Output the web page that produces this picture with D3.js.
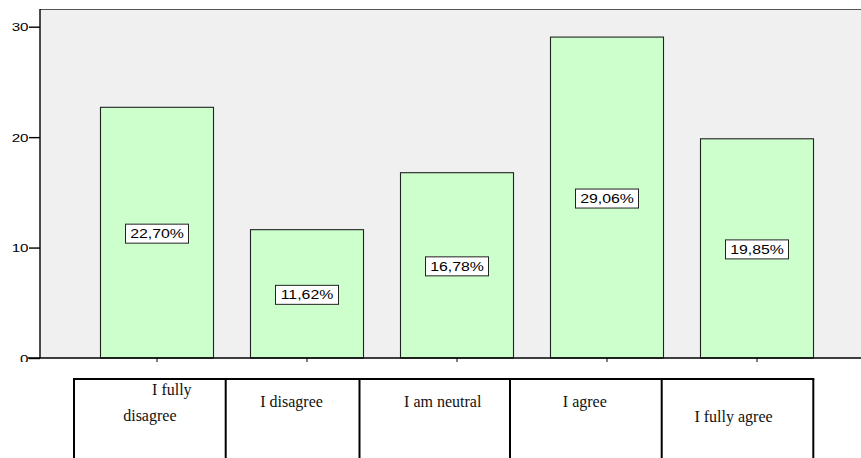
<!DOCTYPE html>
<html>
<head>
<meta charset="utf-8">
<script src="https://cdn.jsdelivr.net/npm/d3@7"></script>
<style>
  html, body { margin: 0; padding: 0; background: #fff; }
  svg { display: block; }
</style>
</head>
<body>
<svg id="chart" width="861" height="458"></svg>
<script>
// Answer categories, shares of respondents (%) and the y axis ticks
const categories = ["I fully disagree", "I disagree", "I am neutral", "I agree", "I fully agree"];
const categoryLines = [["I fully", "disagree"], ["I disagree"], ["I am neutral"], ["I agree"], ["I fully agree"]];
const percents = [22.70, 11.62, 16.78, 29.06, 19.85];
const yTicks = [0, 10, 20, 30];

// Layout
const W = 861, H = 458;
const plot = { left: 40, top: 9, right: 861, bottom: 358 };
const tableEdges = [74, 225.7, 359.5, 510, 661.7, 813.3];
const tableTop = 379;
// per-cell line placement: horizontal nudge from the cell centre and baseline
const cellTextLayout = [
  [{ dx: 22, y: 394.5 }, { dx: 0, y: 421 }],
  [{ dx: -1, y: 407 }],
  [{ dx: 8, y: 407 }],
  [{ dx: -1, y: 407 }],
  [{ dx: -4, y: 422 }]
];
const sansFont = "'Liberation Sans', Arial, sans-serif";
const serifFont = "'Liberation Serif', 'Times New Roman', serif";
const stretch = 1.32; // chart labels are drawn horizontally widened

const svg = d3.select("#chart");

const x = d3.scaleBand()
  .domain(categories)
  .range([82, 832])
  .paddingInner(0.25)
  .paddingOuter(0.125);

const y = d3.scaleLinear()
  .domain([0, 30])
  .range([plot.bottom, 26.7]);

const fmt = v => d3.format(".2f")(v).replace(".", ",") + "%";

// clip so the lowest tick label is cut by the area below the axis
svg.append("defs").append("clipPath").attr("id", "chartClip")
  .append("rect").attr("x", 0).attr("y", 0).attr("width", W).attr("height", 362);

const chart = svg.append("g").attr("clip-path", "url(#chartClip)");

// plot background
chart.append("rect")
  .attr("x", plot.left).attr("y", plot.top)
  .attr("width", plot.right - plot.left).attr("height", plot.bottom - plot.top)
  .attr("fill", "#f0f0f0");

// top frame line
chart.append("line")
  .attr("x1", plot.left).attr("x2", plot.right)
  .attr("y1", plot.top + 0.5).attr("y2", plot.top + 0.5)
  .attr("stroke", "#555").attr("stroke-width", 1);

// bars
chart.selectAll("rect.bar")
  .data(percents)
  .join("rect")
  .attr("class", "bar")
  .attr("x", (d, i) => Math.round(x(categories[i])) - 0.5)
  .attr("y", d => y(d))
  .attr("width", Math.round(x.bandwidth()))
  .attr("height", d => y(0) - y(d))
  .attr("fill", "#ccffcc")
  .attr("stroke", "#222")
  .attr("stroke-width", 1.1);

// value labels in white boxes at the middle of each bar
const labels = chart.selectAll("g.vlabel")
  .data(percents)
  .join("g")
  .attr("class", "vlabel")
  .attr("transform", (d, i) => `translate(${x(categories[i]) + x.bandwidth() / 2},${y(d / 2) + 1})`);

labels.append("rect")
  .attr("x", -31.5).attr("y", -9.5)
  .attr("width", 63).attr("height", 19)
  .attr("fill", "#fff")
  .attr("stroke", "#222")
  .attr("stroke-width", 1);

labels.append("text")
  .attr("transform", `scale(${stretch},1)`)
  .attr("text-anchor", "middle")
  .attr("y", 4.3)
  .attr("font-family", sansFont)
  .attr("font-size", 12)
  .attr("fill", "#000")
  .text(d => fmt(d));

// y axis
const yAxis = d3.axisLeft(y).tickValues(yTicks).tickSize(11).tickPadding(0).tickFormat(d3.format("d"));
const yG = chart.append("g").attr("transform", `translate(${plot.left},0)`).call(yAxis);
yG.select(".domain").remove();
yG.selectAll(".tick line").attr("stroke", "#000").attr("stroke-width", 1.4);
yG.selectAll(".tick text")
  .attr("x", 0).attr("dy", null).attr("y", 0)
  .attr("text-anchor", "end")
  .attr("font-family", sansFont)
  .attr("font-size", 11.5)
  .attr("fill", "#000")
  .attr("transform", `translate(-11.5,4.2) scale(${stretch},1)`);

chart.append("line")
  .attr("x1", plot.left).attr("x2", plot.left)
  .attr("y1", plot.top).attr("y2", plot.bottom)
  .attr("stroke", "#000").attr("stroke-width", 1.4);

// x axis baseline and tick marks under the bars
const xAxis = d3.axisBottom(x).tickSize(4).tickFormat("");
const xG = chart.append("g").attr("transform", `translate(0,${plot.bottom})`).call(xAxis);
xG.select(".domain").remove();
xG.selectAll(".tick line").attr("stroke", "#000").attr("stroke-width", 1);

chart.append("line")
  .attr("x1", 28).attr("x2", plot.right)
  .attr("y1", plot.bottom).attr("y2", plot.bottom)
  .attr("stroke", "#000").attr("stroke-width", 1.4);

// category table beneath the chart
const table = svg.append("g");
table.append("line")
  .attr("x1", tableEdges[0] - 1).attr("x2", tableEdges[tableEdges.length - 1] + 1)
  .attr("y1", tableTop).attr("y2", tableTop)
  .attr("stroke", "#000").attr("stroke-width", 2);

table.selectAll("line.col")
  .data(tableEdges)
  .join("line")
  .attr("class", "col")
  .attr("x1", d => d).attr("x2", d => d)
  .attr("y1", tableTop).attr("y2", H + 5)
  .attr("stroke", "#000").attr("stroke-width", 2);

categoryLines.forEach((lines, i) => {
  const cx = (tableEdges[i] + tableEdges[i + 1]) / 2;
  lines.forEach((line, j) => {
    const lay = cellTextLayout[i][j];
    table.append("text")
      .attr("x", cx + lay.dx)
      .attr("y", lay.y)
      .attr("text-anchor", "middle")
      .attr("font-family", serifFont)
      .attr("font-size", 16)
      .attr("fill", "#111")
      .text(line);
  });
});
</script>
</body>
</html>
